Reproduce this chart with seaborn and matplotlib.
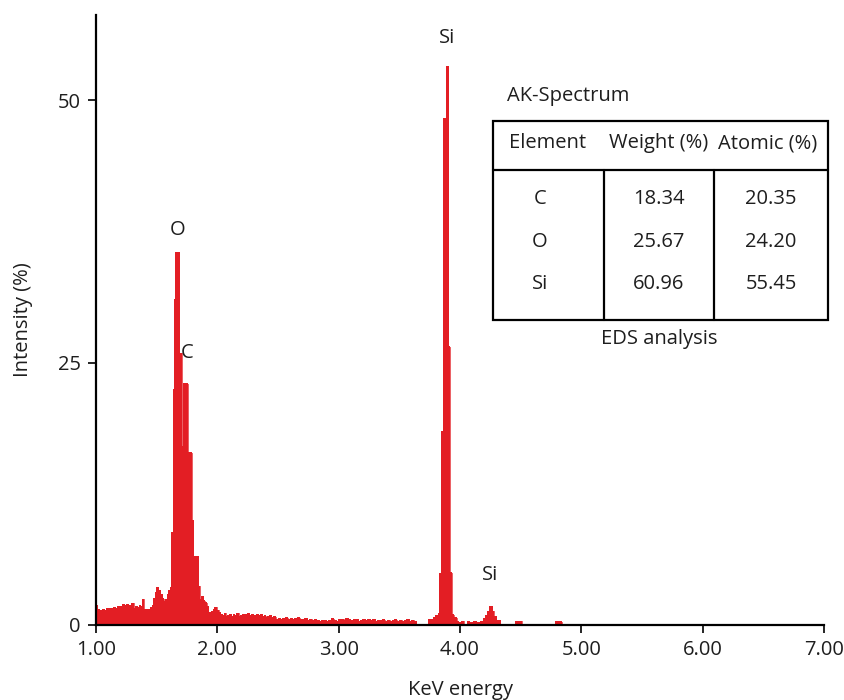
import numpy as np
import pandas as pd
import matplotlib
matplotlib.use("Agg")
import matplotlib.pyplot as plt
from matplotlib.lines import Line2D
from matplotlib.patches import Rectangle
import seaborn as sns

# ---- spectrum: channel start energy (keV) and intensity (%) ----
energy_kev = [
    1.000, 1.012, 1.025, 1.040, 1.055, 1.070, 1.085, 1.100, 1.115, 1.130,
    1.145, 1.160, 1.175, 1.190, 1.205, 1.220, 1.235, 1.250, 1.265, 1.280,
    1.295, 1.310, 1.325, 1.340, 1.355, 1.370, 1.380, 1.392, 1.405, 1.420,
    1.435, 1.450, 1.465, 1.478, 1.490, 1.500, 1.515, 1.530, 1.545, 1.560,
    1.575, 1.590, 1.600, 1.612, 1.624, 1.637, 1.651, 1.659, 1.687, 1.706,
    1.714, 1.725, 1.758, 1.789, 1.801, 1.843, 1.856, 1.872, 1.885, 1.898,
    1.912, 1.926, 1.940, 1.955, 1.967, 1.980, 1.995, 2.010, 2.025, 2.040,
    2.055, 2.070, 2.085, 2.100, 2.115, 2.130, 2.145, 2.160, 2.175, 2.190,
    2.205, 2.220, 2.235, 2.250, 2.265, 2.280, 2.295, 2.310, 2.325, 2.340,
    2.355, 2.370, 2.385, 2.400, 2.415, 2.430, 2.445, 2.460, 2.480, 2.500,
    2.520, 2.540, 2.560, 2.580, 2.600, 2.620, 2.640, 2.660, 2.680, 2.700,
    2.720, 2.740, 2.760, 2.780, 2.800, 2.820, 2.840, 2.860, 2.880, 2.900,
    2.920, 2.940, 2.960, 2.980, 3.000, 3.020, 3.040, 3.060, 3.080, 3.100,
    3.120, 3.140, 3.160, 3.180, 3.200, 3.220, 3.240, 3.260, 3.280, 3.300,
    3.320, 3.340, 3.360, 3.380, 3.400, 3.420, 3.440, 3.460, 3.480, 3.500,
    3.520, 3.540, 3.560, 3.580, 3.600, 3.620, 3.640, 3.740, 3.770, 3.780,
    3.800, 3.820, 3.835, 3.849, 3.862, 3.887, 3.903, 3.917, 3.931, 3.950,
    3.973, 3.990, 4.010, 4.030, 4.060, 4.080, 4.110, 4.140, 4.170, 4.190,
    4.210, 4.225, 4.240, 4.265, 4.280, 4.300, 4.330, 4.460, 4.510, 4.790,
    4.840, 7.000,
]
intensity_pct = [
    1.9, 1.5, 1.3, 1.4, 1.5, 1.4, 1.55, 1.45, 1.6, 1.55,
    1.7, 1.6, 1.75, 1.65, 1.8, 1.95, 1.85, 2.0, 1.7, 1.9,
    2.05, 1.6, 1.8, 1.7, 1.85, 1.75, 2.45, 1.5, 1.35, 1.45,
    1.5, 1.65, 1.9, 2.5, 3.1, 3.6, 3.3, 2.9, 2.5, 2.2,
    2.4, 2.9, 3.3, 3.6, 8.8, 22.4, 31.0, 35.5, 25.9, 17.0,
    14.8, 23.0, 16.4, 10.0, 6.5, 3.7, 2.4, 2.7, 2.3, 2.1,
    1.8, 1.2, 1.0, 1.3, 1.5, 1.7, 1.4, 1.2, 1.0, 0.9,
    1.1, 0.8, 0.9, 1.0, 0.8, 1.0, 0.9, 1.1, 0.8, 0.9,
    1.0, 0.8, 1.0, 1.1, 0.9, 1.0, 0.8, 0.9, 1.0, 0.9,
    1.0, 0.8, 0.9, 0.7, 0.8, 0.9, 0.7, 0.8, 0.55, 0.6,
    0.5, 0.6, 0.7, 0.5, 0.6, 0.5, 0.65, 0.7, 0.55, 0.5,
    0.6, 0.45, 0.55, 0.4, 0.5, 0.4, 0.35, 0.45, 0.4, 0.3,
    0.45, 0.6, 0.4, 0.35, 0.5, 0.55, 0.45, 0.6, 0.5, 0.4,
    0.55, 0.5, 0.35, 0.45, 0.5, 0.4, 0.55, 0.4, 0.5, 0.35,
    0.45, 0.4, 0.5, 0.35, 0.45, 0.3, 0.4, 0.5, 0.35, 0.45,
    0.3, 0.4, 0.5, 0.3, 0.45, 0.35, 0.0, 0.5, 0.0, 0.7,
    0.9, 1.1, 4.9, 18.4, 48.2, 53.2, 26.5, 5.0, 1.0, 0.7,
    0.3, 0.2, 0.35, 0.0, 0.3, 0.2, 0.3, 0.2, 0.3, 0.6,
    0.9, 1.3, 1.75, 1.3, 0.8, 0.4, 0.0, 0.35, 0.0, 0.3,
    0.0, 0.0,
]

# ---- peak labels ----
peak_names = ["O", "C", "Si", "Si"]
peak_x = [1.676, 1.755, 3.893, 4.247]
peak_y = [37.6, 25.9, 55.9, 4.8]

# ---- composition table ----
table_title = "AK-Spectrum"
table_caption = "EDS analysis"
col_headers = ["Element", "Weight (%)", "Atomic (%)"]
elements = ["C", "O", "Si"]
weight_pct = ["18.34", "25.67", "60.96"]
atomic_pct = ["20.35", "24.20", "55.45"]

x_ticks = [1, 2, 3, 4, 5, 6, 7]
y_ticks = [0, 25, 50]

# ------------------------------------------------------------------
sns.set_theme(style="ticks")
plt.rcParams["font.family"] = ["Open Sans", "DejaVu Sans"]
FS = 14.5
RED = "#e31e24"
INK = "#1e1e1e"

W, H = 844, 700
fig = plt.figure(figsize=(W / 100, H / 100), dpi=100)
ax = fig.add_axes([96 / W, 1 - 625 / H, (824 - 96) / W, (625 - 15) / H])

df = pd.DataFrame({"energy": energy_kev, "intensity": intensity_pct})
# filled step outline of the counts, one closed polygon, no edge blending
ax.stairs(df["intensity"].iloc[:-1], df["energy"], fill=True,
          facecolor=RED, edgecolor="none", linewidth=0, snap=False,
          antialiased=False)
sns.lineplot(data=df, x="energy", y="intensity", ax=ax,
             drawstyle="steps-post", color=RED, linewidth=0.5,
             estimator=None, sort=False)

ax.set_xlim(1, 7)
ax.set_ylim(0, 58.1)
ax.set_xticks(x_ticks)
ax.set_xticklabels([f"{v:.2f}" for v in x_ticks])
ax.set_yticks(y_ticks)
ax.set_xlabel("")
ax.set_ylabel("")
ax.tick_params(axis="both", labelsize=FS, length=6, width=1.2, color="black",
               labelcolor=INK, pad=5)
for side in ("top", "right"):
    ax.spines[side].set_visible(False)
for side in ("left", "bottom"):
    ax.spines[side].set_linewidth(1.6)
    ax.spines[side].set_color("black")
ax.set_xlabel("KeV energy", fontsize=FS, color=INK, labelpad=14)
ax.set_ylabel("Intensity (%)", fontsize=FS, color=INK, labelpad=18)

for name, px, py in zip(peak_names, peak_x, peak_y):
    ax.text(px, py, name, ha="center", va="center", fontsize=FS, color=INK)


def fx(px):
    return px / W


def fy(py):
    return 1 - py / H


# composition table, drawn in figure pixel coordinates
tx0, tx1, ty0, ty1 = 493, 828, 121, 320
head_y, col_x = 170, [604, 714]
fig.add_artist(Rectangle((fx(tx0), fy(ty1)), fx(tx1) - fx(tx0), fy(ty0) - fy(ty1),
                         transform=fig.transFigure, fill=False,
                         edgecolor="black", linewidth=1.6))
fig.add_artist(Line2D([fx(tx0), fx(tx1)], [fy(head_y)] * 2,
                      transform=fig.transFigure, color="black", linewidth=1.6))
for cx in col_x:
    fig.add_artist(Line2D([fx(cx)] * 2, [fy(head_y), fy(ty1)],
                          transform=fig.transFigure, color="black",
                          linewidth=1.6))

fig.text(fx(507), fy(96), table_title, ha="left", va="center", fontsize=FS,
         color=INK)
for hx, label in zip([548, 659, 768], col_headers):
    fig.text(fx(hx), fy(143), label, ha="center", va="center", fontsize=FS,
             color=INK)
for ry, el, w, a in zip([199, 242, 284], elements, weight_pct, atomic_pct):
    fig.text(fx(540), fy(ry), el, ha="center", va="center", fontsize=FS,
             color=INK)
    fig.text(fx(659), fy(ry), w, ha="center", va="center", fontsize=FS,
             color=INK)
    fig.text(fx(771), fy(ry), a, ha="center", va="center", fontsize=FS,
             color=INK)
fig.text(fx(659), fy(339), table_caption, ha="center", va="center",
         fontsize=FS, color=INK)

fig.savefig("out.png", dpi=100, facecolor="white")
